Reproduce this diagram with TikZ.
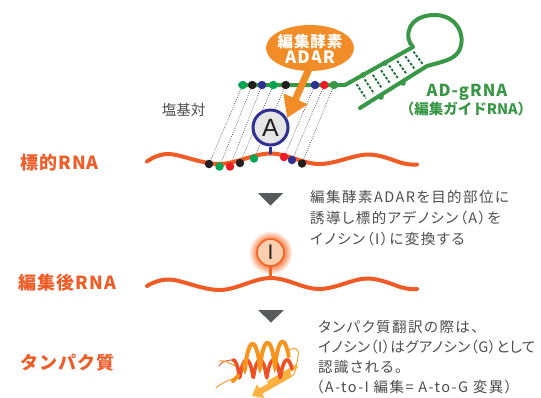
\documentclass[tikz,border=0pt]{standalone}
\usepackage{fontspec}
\setmainfont{Noto Sans CJK JP}
\newfontfamily\descfont[RawFeature=+palt, LetterSpace=10]{Noto Sans CJK JP}
\newfontfamily\desctight[RawFeature=+palt, LetterSpace=3]{Noto Sans CJK JP}
\newfontfamily\labfont[LetterSpace=6]{Noto Sans CJK JP}
\newfontfamily\letterfont{Liberation Sans}
\usetikzlibrary{arrows.meta,shapes.geometric,calc}

\definecolor{rnaOrange}{RGB}{240,90,36}
\definecolor{labOrange}{RGB}{238,92,40}
\definecolor{adarOrange}{RGB}{242,140,38}
\definecolor{guideGreen}{RGB}{57,152,70}
\definecolor{rungGreen}{RGB}{27,110,58}
\definecolor{ntGreen}{RGB}{0,166,81}
\definecolor{ntBlack}{RGB}{35,31,32}
\definecolor{ntBlue}{RGB}{46,49,146}
\definecolor{ntRed}{RGB}{237,28,36}
\definecolor{txtGray}{RGB}{77,77,79}
\definecolor{triGray}{RGB}{88,89,91}
\definecolor{inoPeach}{RGB}{252,206,176}
\definecolor{inoEdge}{RGB}{242,101,34}
\definecolor{protOrange}{RGB}{247,148,29}
\definecolor{protRed}{RGB}{239,80,35}
\definecolor{protLight}{RGB}{251,176,64}

\pgfdeclareradialshading{inoglow}{\pgfpoint{0bp}{0bp}}{color(0bp)=(inoEdge); color(13bp)=(inoEdge); color(25bp)=(white); color(50bp)=(white)}

\tikzset{
  nt/.style={circle, inner sep=0pt, minimum size=8.5pt},
  pairline/.style={draw=black!70, line width=0.6pt, dash pattern=on 0.9pt off 1.3pt},
  rna/.style={draw=rnaOrange, line width=4pt, line cap=round},
  strand/.style={draw=guideGreen, line width=4pt, line join=round, line cap=round},
  rung/.style={draw=rungGreen, line width=1.8pt, dash pattern=on 2.6pt off 1.6pt},
  sidelab/.style={font=\labfont\fontsize{18}{18}\selectfont\bfseries, text=labOrange, anchor=base west, inner sep=0pt},
  desc/.style={font=\descfont\fontsize{14.5}{21}\selectfont, text=txtGray, anchor=base west, inner sep=0pt},
  downtri/.style={fill=triGray},
}

\begin{document}
\begin{tikzpicture}[x=1pt,y=-1pt]
\useasboundingbox[fill=white] (0,0) rectangle (541,397);

% ---------- guide RNA hairpin ----------
\coordinate (g0) at (240,85);
\coordinate (gk) at (345,85);
\coordinate (gu) at (413,47);
\coordinate (gl) at (427,66);
\coordinate (gend) at (360,108);
\draw[strand] (g0) -- (gk) -- (gu)
  .. controls (403,37) and (408,16) .. (433,15)
  .. controls (456,14) and (467,35) .. (459,51)
  .. controls (454,60) and (441,62) .. (gl) -- (gend);
% paired bases of the stem
\foreach \s in {0.13,0.25,0.37,0.49,0.61,0.73,0.85,0.97}{
  \draw[rung] ($(gk)!\s!(gu)!0.18!($(gend)!\s!(gl)$)$) -- ($(gk)!\s!(gu)!0.82!($(gend)!\s!(gl)$)$);
}
\foreach \p in {(363,75),(385,63),(381,97),(403,83)}{
  \fill[guideGreen] \p circle (2.8);
}

% ---------- base pairing between guide and target ----------
\foreach \i/\tx/\bx/\by in {1/242.7/209/164, 2/252.3/219.5/166.5, 3/262/230/166.5, 4/273.3/240/163,
                           5/285.7/254/158.5, 6/315/284/157, 7/324.3/292/160, 8/334/302/163.5}{
  \coordinate (t\i) at (\tx,85);
  \coordinate (b\i) at (\bx,\by);
  \draw[pairline] (t\i) -- (b\i);
}

% ---------- target RNA ----------
\draw[rna] plot[smooth, tension=0.6] coordinates {(147,161.5) (169,154) (219,164) (270.5,153.5) (319,164) (368,154.5) (404,163.5) (417,164.5)};

% nucleotides on both strands
\foreach \i/\c in {1/ntGreen,2/ntBlack,3/ntBlue,4/ntGreen,5/ntBlack,6/ntBlue,7/ntRed,8/guideGreen}{
  \node[nt, fill=\c] at (t\i) {};
}
\foreach \i/\c in {1/ntBlack,2/ntGreen,3/ntRed,4/ntBlack,5/ntGreen,6/ntRed,7/ntBlue,8/ntBlack}{
  \node[nt, fill=\c] at (b\i) {};
}

% adenosine
\coordinate (stemA) at (270.5,154);
\node[circle, draw=ntBlue, line width=3pt, fill=black!10, minimum size=35pt, inner sep=0pt,
      font=\letterfont\fontsize{25}{25}\selectfont, text=ntBlack] (adeno) at (270.5,127.5) {A};
\draw[ntBlue, line width=2.5pt] (adeno.south) -- (stemA);

% ---------- ADAR ----------
\node[ellipse, fill=adarOrange, minimum width=88pt, minimum height=46pt, inner sep=0pt] (adar) at (310,48) {};
\node[font=\labfont\fontsize{15.5}{15.5}\selectfont\bfseries, text=white, anchor=base] at (310,47.5) {編集酵素};
\node[font=\labfont\fontsize{17}{17}\selectfont\bfseries, text=white, anchor=base] at (310,63) {ADAR};
\coordinate (adarTip) at (287,118);
\draw[adarOrange, line width=7pt, -{Triangle[width=25pt,length=21pt]}] (313,60) -- (adarTip);

% ---------- labels ----------
\node[font=\fontsize{14.5}{14.5}\selectfont, text=txtGray, anchor=base] (bp) at (183.5,115.5) {塩基対};
\node[font=\labfont\fontsize{16.5}{16.5}\selectfont\bfseries, text=guideGreen, anchor=base] (gname) at (467,96) {AD-gRNA};
\node[font=\fontsize{14.5}{14.5}\selectfont\bfseries, text=guideGreen, anchor=base] (gsub) at (466,114) {（編集ガイドRNA）};

\node[sidelab] (lab1) at (20,169.5) {標的RNA};
\node[sidelab] (lab2) at (18,289.5) {編集後RNA};
\node[sidelab] (lab3) at (20,369.5) {タンパク質};

% ---------- step arrows ----------
\fill[downtri] (258,193) -- (283,193) -- (270.5,205.5) -- cycle;
\fill[downtri] (258,310) -- (284,310) -- (271,322.5) -- cycle;

% ---------- descriptions ----------
\node[desc] (d11) at (310,202) {編集酵素ADARを目的部位に};
\node[desc] (d12) at (310,223) {誘導し標的アデノシン（A）を};
\node[desc] (d13) at (310,244) {イノシン（I）に変換する};

\node[desc] (d21) at (318,332) {タンパク質翻訳の際は、};
\node[desc, font=\desctight\fontsize{14.5}{21}\selectfont] (d22) at (318,352) {イノシン（I）はグアノシン（G）として};
\node[desc] (d23) at (318,372) {認識される。};
\node[desc] (d24) at (316,392) {（A-to-I 編集= A-to-G 変異）};

% ---------- edited RNA ----------
\draw[rna] plot[smooth, tension=0.6] coordinates {(147,286) (170,279.5) (220,290) (270.5,278) (319,289) (367,278.5) (404,288) (417,289)};
\coordinate (stemI) at (270.5,279);
\shade[shading=inoglow] (270.5,252.5) circle (22);
\draw[inoEdge, line width=2.5pt] (270.5,265) -- (stemI);
\node[circle, draw=inoEdge, line width=1.6pt, fill=inoPeach, minimum size=27pt, inner sep=0pt,
      font=\letterfont\fontsize{21}{21}\selectfont, text=ntBlack] (ino) at (270.5,252.5) {I};

% ---------- protein ribbon ----------
% thin coils
\draw[protOrange, line width=0.9pt] (286,352) .. controls (294,346) and (300,348) .. (298,356)
  .. controls (297,364) and (296,370) .. (293,376);
\draw[protRed, line width=0.9pt] (233,360) .. controls (226,360) and (221,362) .. (219,366);
\draw[protOrange, line width=0.9pt] (235,366) .. controls (228,362) and (223,360) .. (219,361);
\draw[protOrange, line width=0.9pt] (236,378) .. controls (228,380) and (222,383) .. (216,388);
% beta strands
\draw[protLight, line width=4pt] (297,366) -- (268,383);
\draw[protLight, line width=6pt, -{Triangle[width=15pt,length=10pt]}] (291,374) -- (252,396);
% helices
\draw[protRed, line width=3.6pt, line cap=round] plot[domain=0:1530, samples=130, smooth]
  ({233 + \x/360*13.5 + 1.5*sin(\x)}, {368.5 - 8.5*cos(\x)});
\draw[protOrange, line width=4pt, line cap=round] (233,381) -- (238,376)
  plot[domain=-60:1000, samples=110, smooth]
  ({245 + \x/360*15 - 2*sin(\x)}, {357 - \x/1000*3 + 12.5*cos(\x)});
\end{tikzpicture}
\end{document}
